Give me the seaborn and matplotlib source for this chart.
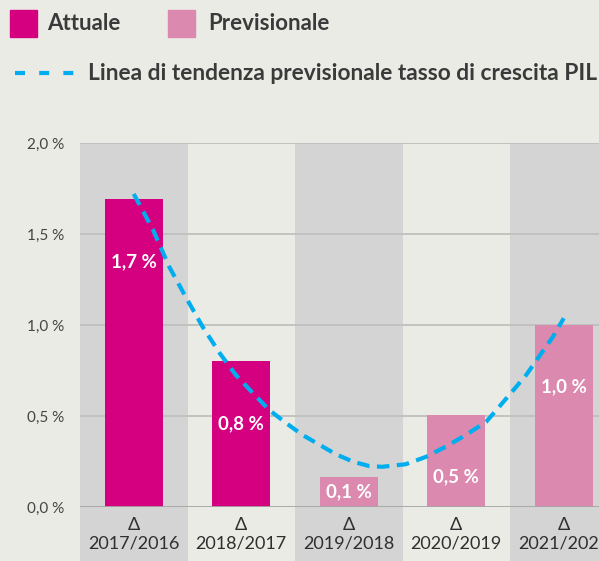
import matplotlib
matplotlib.use("Agg")
import matplotlib.pyplot as plt
import seaborn as sns
import pandas as pd
from matplotlib.patches import Rectangle
from matplotlib.lines import Line2D

# ---------------- data ----------------
categories = ["2017/2016", "2018/2017", "2019/2018", "2020/2019", "2021/2020"]
values = [1.69, 0.80, 0.165, 0.505, 1.00]
series = ["Attuale", "Attuale", "Previsionale", "Previsionale", "Previsionale"]
value_labels = ["1,7 %", "0,8 %", "0,1 %", "0,5 %", "1,0 %"]

trend_x = [0.00, 0.18, 0.33, 0.49, 0.64, 0.80, 0.95, 1.11, 1.26, 1.42, 1.57,
           1.73, 1.88, 2.04, 2.19, 2.31, 2.53, 2.72, 2.90, 3.09, 3.28, 3.40,
           3.52, 3.65, 3.77, 3.90, 4.00]
trend_y = [1.720, 1.522, 1.320, 1.147, 0.991, 0.845, 0.725, 0.625, 0.533, 0.460,
           0.396, 0.341, 0.290, 0.249, 0.225, 0.221, 0.235, 0.276, 0.331, 0.396,
           0.469, 0.551, 0.634, 0.725, 0.826, 0.936, 1.037]

y_ticks = [0.0, 0.5, 1.0, 1.5, 2.0]
y_tick_labels = ["0,0 %", "0,5 %", "1,0 %", "1,5 %", "2,0 %"]
legend_labels = ["Attuale", "Previsionale"]
trend_label = "Linea di tendenza previsionale tasso di crescita PIL"

# ---------------- style ----------------
BG = "#ebebe6"
BAND = "#d4d4d4"
MAG = "#d5007f"
PINK = "#db89ae"
CYAN = "#00aeef"
TXT = "#3a3a3a"

sns.set_theme(style="white")
plt.rcParams['font.family'] = ['Lato', 'DejaVu Sans']

W, H = 599, 561
fig = plt.figure(figsize=(W / 100, H / 100), dpi=100, facecolor=BG)
ax = fig.add_axes([80 / W, 54 / H, 537.5 / W, 364 / H])
ax.set_facecolor(BG)

# alternating background bands (extend below the axis through the labels)
for i in range(len(categories)):
    if i % 2 == 0:
        ax.axvspan(i - 0.5, i + 0.5, ymin=-0.2, ymax=1, color=BAND, lw=0,
                   zorder=0, clip_on=False)

for y in y_ticks[1:]:
    ax.axhline(y, color="#bfbfbf", lw=1.3, zorder=0.6)

df = pd.DataFrame({"cat": categories, "val": values, "serie": series})
sns.barplot(data=df, x="cat", y="val", hue="serie", order=categories,
            hue_order=legend_labels, palette={"Attuale": MAG, "Previsionale": PINK},
            dodge=False, width=0.54, saturation=1, ax=ax, legend=False, zorder=2,
            linewidth=0, edgecolor="none")

ax.axhline(0, color="#a5a5a5", lw=2, zorder=3)

sns.lineplot(x=trend_x, y=trend_y, ax=ax, color=CYAN, lw=3, sort=False,
             estimator=None, zorder=4)
ax.lines[-1].set_linestyle((0, (3, 1.8)))

for i, (v, lab) in enumerate(zip(values, value_labels)):
    ty = v - 0.34 if v > 0.3 else v / 2
    ax.text(i, ty, lab, ha="center", va="center", color="white",
            fontsize=13.5, fontweight="bold", zorder=5)

ax.set_xlim(-0.5, 4.5)
ax.set_ylim(0, 2.0)
ax.set_xticks(range(len(categories)))
ax.set_xticklabels(["Δ\n" + c for c in categories])
for lbl in ax.get_xticklabels():
    lbl.set_linespacing(1.2)
ax.set_yticks(y_ticks)
ax.set_yticklabels(y_tick_labels)
ax.tick_params(axis="x", length=0, pad=7, labelsize=13, labelcolor="#2f2f2f")
ax.tick_params(axis="y", length=0, pad=11, labelsize=11, labelcolor="#444444")
ax.set_xlabel("")
ax.set_ylabel("")
for s in ax.spines.values():
    s.set_visible(False)

# ---------------- legend ----------------
fig.patches.append(Rectangle((10 / W, 1 - 37 / H), 27 / W, 27 / H,
                             transform=fig.transFigure, color=MAG))
fig.text(47 / W, 1 - 24 / H, legend_labels[0], va="center", ha="left",
         fontsize=16, fontweight="bold", color=TXT)
fig.patches.append(Rectangle((168 / W, 1 - 37 / H), 27 / W, 27 / H,
                             transform=fig.transFigure, color=PINK))
fig.text(208 / W, 1 - 24 / H, legend_labels[1], va="center", ha="left",
         fontsize=16, fontweight="bold", color=TXT)
fig.add_artist(Line2D([14.5 / W, 74.5 / W], [1 - 73 / H, 1 - 73 / H],
                      transform=fig.transFigure, color=CYAN, lw=3,
                      linestyle=(0, (2.4, 3.4))))
fig.text(88 / W, 1 - 74 / H, trend_label, va="center", ha="left",
         fontsize=16.4, fontweight="bold", color=TXT)

fig.savefig("out.png", dpi=100, facecolor=BG)
